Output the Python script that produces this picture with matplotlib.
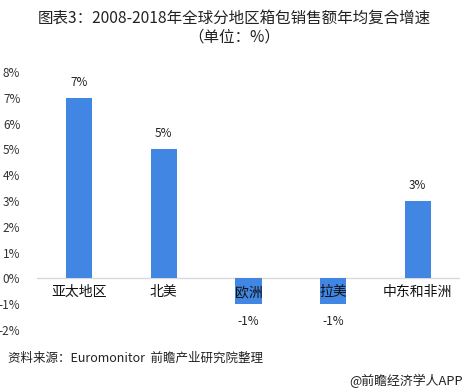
import matplotlib.pyplot as plt

plt.rcParams['font.family'] = ['Noto Sans CJK SC', 'DejaVu Sans']

regions = ['亚太地区', '北美', '欧洲', '拉美', '中东和非洲']
cagr = [7, 5, -1, -1, 3]
yticks = [-2, -1, 0, 1, 2, 3, 4, 5, 6, 7, 8]

W, H = 468, 391
fig = plt.figure(figsize=(W / 100, H / 100), dpi=100)
# axes box from pixel coords: x 37..460, y 72..330
ax = fig.add_axes([37 / W, 1 - 330 / H, (460 - 37) / W, (330 - 72) / H])

x = list(range(len(regions)))
ax.bar(x, cagr, width=0.31, color='#4286e3', zorder=2)
ax.axhline(0, color='#d9d9d9', lw=1, zorder=1)

for i, v in enumerate(cagr):
    if v >= 0:
        ax.text(i, v + 0.35, f'{v}%', ha='center', va='bottom', fontsize=8.5, color='#222222')
    else:
        ax.text(i, v - 0.4, f'{v}%', ha='center', va='top', fontsize=8.5, color='#222222')
    ax.text(i, -0.27, regions[i], ha='center', va='top', fontsize=10, color='#111111', zorder=3)

ax.set_xlim(-0.5, 4.5)
ax.set_ylim(-2, 8)
ax.set_yticks(yticks)
ax.set_yticklabels([f'{t}%' for t in yticks], fontsize=8.5, color='#333333')
ax.set_xticks([])
ax.tick_params(axis='y', length=0, pad=12)
for s in ax.spines.values():
    s.set_visible(False)

fig.text(0.5, 1 - 18 / H, '图表3：2008-2018年全球分地区箱包销售额年均复合增速',
         ha='center', va='center', fontsize=11.2, color='#222222')
fig.text(0.5, 1 - 37 / H, '（单位：%）', ha='center', va='center', fontsize=11.2, color='#222222')
fig.text(8 / W, 1 - 358 / H, '资料来源：Euromonitor  前瞻产业研究院整理',
         ha='left', va='center', fontsize=9, style='italic', color='#222222')
fig.text(463 / W, 1 - 381 / H, '@前瞻经济学人APP', ha='right', va='center',
         fontsize=9.3, color='#222222')

fig.savefig('out.png', dpi=100)
